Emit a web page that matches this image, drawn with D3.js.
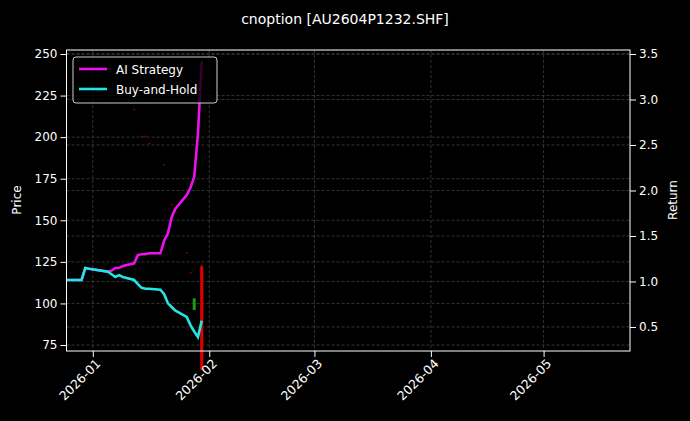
<!DOCTYPE html>
<html>
<head>
<meta charset="utf-8">
<script src="https://cdn.jsdelivr.net/npm/d3@7"></script>
<style>
  body { margin: 0; background: #000; }
  svg { font-family: "DejaVu Sans", sans-serif; }
</style>
</head>
<body>
<svg id="chart" width="690" height="421"></svg>
<script>
// trading days
var dates = ["2025-12-25","2025-12-26","2025-12-29","2025-12-30","2025-12-31",
  "2026-01-05","2026-01-06","2026-01-07","2026-01-08","2026-01-09",
  "2026-01-12","2026-01-13","2026-01-14","2026-01-15","2026-01-16",
  "2026-01-19","2026-01-20","2026-01-21","2026-01-22","2026-01-23",
  "2026-01-26","2026-01-27","2026-01-28","2026-01-29","2026-01-30"];
var aiReturn = [1.016,1.016,1.016,1.148,1.14,1.108,1.12,1.148,1.15,1.17,
  1.2,1.29,1.30,1.30,1.31,1.31,1.45,1.53,1.71,1.80,1.95,2.03,2.15,2.63,3.42];
var bhReturn = [1.016,1.016,1.016,1.148,1.14,1.108,1.08,1.05,1.07,1.05,
  1.016,0.97,0.93,0.92,0.92,0.91,0.86,0.76,0.72,0.68,0.61,0.52,0.45,0.39,0.57];
// candles: date, open, high, low, close
var candleDates = ["2026-01-12","2026-01-14","2026-01-15","2026-01-16","2026-01-20","2026-01-22","2026-01-26","2026-01-27","2026-01-28","2026-01-30"];
var open  = [216.5,200.3,200.3,196,183.3,159.3,130.3,118.3,96,122];
var high  = [216.8,200.6,200.6,196.3,183.6,159.6,130.6,118.6,103,123];
var low   = [216.2,200,200,195.7,183,159,130,118,96,60];
var close = [216.3,200.1,200.1,195.8,183.1,159.1,130.1,118.1,103,60];
var priceTicks = [75,100,125,150,175,200,225,250];
var returnTicks = [0.5,1.0,1.5,2.0,2.5,3.0,3.5];

var parse = d3.timeParse("%Y-%m-%d");
var svg = d3.select("#chart");
var m = { left: 66.5, right: 630, top: 50, bottom: 351 };

svg.append("rect").attr("width", 690).attr("height", 421).attr("fill", "#000");

var x = d3.scaleTime()
  .domain([parse("2025-12-25"), parse("2026-05-24")])
  .range([m.left, m.right]);
var yP = d3.scaleLinear().domain([71.4, 252.4]).range([m.bottom, m.top]);
var yR = d3.scaleLinear().domain([0.236, 3.544]).range([m.bottom, m.top]);

var monthTicks = d3.timeMonth.range(parse("2026-01-01"), parse("2026-05-02"));

// grid
var grid = svg.append("g").attr("stroke", "#555").attr("stroke-width", 0.6)
  .attr("stroke-dasharray", "3,2");
monthTicks.forEach(d => grid.append("line").attr("x1", x(d)).attr("x2", x(d))
  .attr("y1", m.top).attr("y2", m.bottom));
priceTicks.forEach(v => grid.append("line").attr("x1", m.left).attr("x2", m.right)
  .attr("y1", yP(v)).attr("y2", yP(v)));
returnTicks.forEach(v => grid.append("line").attr("x1", m.left).attr("x2", m.right)
  .attr("y1", yR(v)).attr("y2", yR(v)));

// candles
candleDates.forEach((d, i) => {
  var up = close[i] >= open[i];
  var col = up ? "#1a9a1a" : "#e00000";
  var cx = x(parse(d));
  if (high[i] - low[i] > 2) {
    svg.append("line").attr("x1", cx).attr("x2", cx)
      .attr("y1", yP(high[i])).attr("y2", yP(low[i]))
      .attr("stroke", col).attr("stroke-width", i == 9 ? 2 : 1);
  } else {
    svg.append("rect").attr("x", cx - 1).attr("y", yP(high[i]) - 0.5)
      .attr("width", 2).attr("height", 1.5).attr("fill", "#a00000").attr("opacity", 0.8);
  }
  if (Math.abs(close[i] - open[i]) > 2) {
    svg.append("rect").attr("x", cx - 1.5).attr("width", 3)
      .attr("y", yP(Math.max(open[i], close[i])))
      .attr("height", Math.abs(yP(open[i]) - yP(close[i])))
      .attr("fill", col);
  }
});

svg.append("defs").append("clipPath").attr("id", "clip")
  .append("rect").attr("x", m.left).attr("y", m.top)
  .attr("width", m.right - m.left).attr("height", m.bottom - m.top);

var line = d3.line().x((d, i) => x(parse(dates[i]))).y(d => yR(d));
svg.append("path").datum(aiReturn).attr("d", line).attr("fill", "none")
  .attr("stroke", "#ee11ee").attr("stroke-width", 2.6).attr("clip-path", "url(#clip)");
svg.append("path").datum(bhReturn).attr("d", line).attr("fill", "none")
  .attr("stroke", "#22e5e5").attr("stroke-width", 2.6).attr("clip-path", "url(#clip)");

// frame
svg.append("rect").attr("x", m.left).attr("y", m.top)
  .attr("width", m.right - m.left).attr("height", m.bottom - m.top)
  .attr("fill", "none").attr("stroke", "#fff").attr("stroke-width", 1);

// axes
var ax = svg.append("g").attr("transform", `translate(0,${m.bottom})`)
  .call(d3.axisBottom(x).tickValues(monthTicks).tickFormat(d3.timeFormat("%Y-%m")).tickSizeOuter(0));
ax.selectAll("text").attr("transform", "rotate(-45)").attr("text-anchor", "end")
  .attr("dx", "-0.3em").attr("dy", "0.5em");
var al = svg.append("g").attr("transform", `translate(${m.left},0)`)
  .call(d3.axisLeft(yP).tickValues(priceTicks).tickSizeOuter(0));
var ar = svg.append("g").attr("transform", `translate(${m.right},0)`)
  .call(d3.axisRight(yR).tickValues(returnTicks).tickFormat(d3.format(".1f")).tickSizeOuter(0));
[ax, al, ar].forEach(g => {
  g.select(".domain").remove();
  g.selectAll("line").attr("stroke", "#fff");
  g.selectAll("text").attr("fill", "#fff").attr("font-size", 12)
    .attr("font-family", "DejaVu Sans, sans-serif");
});
ax.selectAll("text").attr("font-size", 12.5);

svg.append("text").attr("transform", "translate(21,200) rotate(-90)")
  .attr("text-anchor", "middle").attr("fill", "#fff").attr("font-size", 12).text("Price");
svg.append("text").attr("transform", "translate(677,200) rotate(-90)")
  .attr("text-anchor", "middle").attr("fill", "#fff").attr("font-size", 12).text("Return");
svg.append("text").attr("x", 345).attr("y", 24).attr("text-anchor", "middle")
  .attr("fill", "#fff").attr("font-size", 14).text("cnoption [AU2604P1232.SHF]");

// legend
var lg = svg.append("g").attr("transform", "translate(73,57)");
lg.append("rect").attr("width", 144).attr("height", 46).attr("rx", 3)
  .attr("fill", "#000").attr("fill-opacity", 0.8).attr("stroke", "#ccc");
[["AI Strategy", "#ee11ee"], ["Buy-and-Hold", "#22e5e5"]].forEach((s, i) => {
  lg.append("line").attr("x1", 6).attr("x2", 34).attr("y1", 12 + i * 20).attr("y2", 12 + i * 20)
    .attr("stroke", s[1]).attr("stroke-width", 2.6);
  lg.append("text").attr("x", 43).attr("y", 16.5 + i * 20).attr("fill", "#fff")
    .attr("font-size", 12).text(s[0]);
});
</script>
</body>
</html>
